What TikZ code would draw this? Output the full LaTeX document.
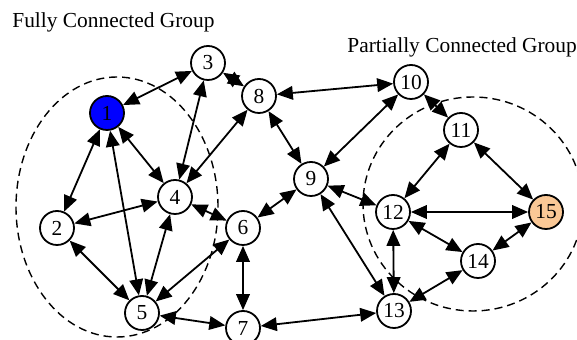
\documentclass[tikz,border=0pt]{standalone}
\usepackage{fontspec}
\setmainfont{Liberation Serif}
\usetikzlibrary{arrows.meta}
\definecolor{peach}{RGB}{250,200,150}
\tikzset{
    station/.style={circle,draw,line width=0.9pt,minimum size=17pt,inner sep=0pt,font=\fontsize{10.7}{12}\selectfont},
    link/.style={line width=0.9pt,{Triangle[length=8pt,width=6.8pt]}-{Triangle[length=8pt,width=6.8pt]}},
    group/.style={line width=0.7pt,dash pattern=on 4pt off 2.5pt},
    caption/.style={anchor=base west,inner sep=0pt,font=\fontsize{10.7}{12}\selectfont}
}

\begin{document}
\begin{tikzpicture}[x=0.5pt,y=-0.5pt]
    \clip (0,0) rectangle (577,340);
    \draw[group] (117,207) ellipse [x radius=50.5pt, y radius=65pt];
    \draw[group] (473,204) ellipse [x radius=55pt, y radius=53.5pt];

    \node[caption] (fullLabel) at (12,28) {Fully Connected Group};
    \node[caption] (partLabel) at (347,53) {Partially Connected Group};

    \node[station,fill=blue] (n1) at (107,113) {1};
    \node[station] (n2) at (57,228) {2};
    \node[station] (n3) at (208,63) {3};
    \node[station] (n4) at (175,197) {4};
    \node[station] (n5) at (142,313) {5};
    \node[station] (n6) at (243,228) {6};
    \node[station] (n7) at (243,328) {7};
    \node[station] (n8) at (259,96) {8};
    \node[station] (n9) at (311,179) {9};
    \node[station] (n10) at (411,82) {10};
    \node[station] (n11) at (461,130) {11};
    \node[station] (n12) at (393,212) {12};
    \node[station] (n13) at (394,311) {13};
    \node[station] (n14) at (478,261) {14};
    \node[station,fill=peach] (n15) at (546,212) {15};

    \draw[link] (n1) -- (n3);
    \draw[link] (n1) -- (n2);
    \draw[link] (n1) -- (n5);
    \draw[link] (n1) -- (n4);
    \draw[link] (n2) -- (n4);
    \draw[link] (n2) -- (n5);
    \draw[link] (n3) -- (n4);
    \draw[link] (n3) -- (n8);
    \draw[link] (n8) -- (n4);
    \draw[link] (n4) -- (n5);
    \draw[link] (n4) -- (n6);
    \draw[link] (n6) -- (n5);
    \draw[link] (n6) -- (n7);
    \draw[link] (n5) -- (n7);
    \draw[link] (n6) -- (n9);
    \draw[link] (n8) -- (n9);
    \draw[link] (n8) -- (n10);
    \draw[link] (n7) -- (n13);
    \draw[link] (n9) -- (n10);
    \draw[link] (n9) -- (n12);
    \draw[link] (n9) -- (n13);
    \draw[link] (n10) -- (n11);
    \draw[link] (n11) -- (n12);
    \draw[link] (n11) -- (n15);
    \draw[link] (n12) -- (n15);
    \draw[link] (n12) -- (n14);
    \draw[link] (n12) -- (n13);
    \draw[link] (n13) -- (n14);
    \draw[link] (n14) -- (n15);
\end{tikzpicture}
\end{document}
